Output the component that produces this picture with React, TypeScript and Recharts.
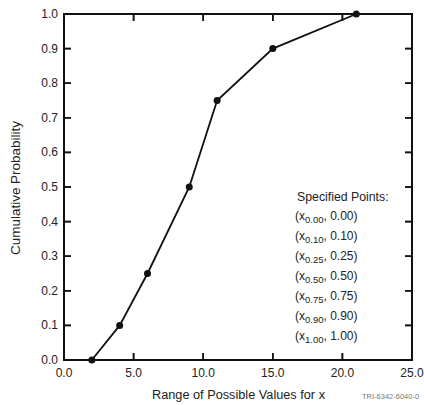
import React from 'react';
import { LineChart, Line, XAxis, YAxis, ReferenceArea, ReferenceDot, ReferenceLine } from 'recharts';

// values
const probabilities = [0, 0.1, 0.25, 0.5, 0.75, 0.9, 1.0];
const xValues = [2, 4, 6, 9, 11, 15, 21];
const xTicks = [0, 5, 10, 15, 20, 25];
const yTicks = [0, 0.1, 0.2, 0.3, 0.4, 0.5, 0.6, 0.7, 0.8, 0.9, 1.0];

const data = xValues.map((x, i) => ({ x, p: probabilities[i] }));

const FONT = '"Liberation Sans", Arial, Helvetica, sans-serif';
const TICK_LEN = 7;
const TICK_DX = 0.5; // about 7px in x units
const TICK_DY = 0.02; // about 7px in y units
const INK = '#111';

const XLabel = (props: any) => {
  const { x, y, payload } = props;
  return (
    <text x={x} y={y + 17} textAnchor="middle" fontSize={12} fontFamily={FONT} fill="#222">
      {Number(payload.value).toFixed(1)}
    </text>
  );
};

const YLabel = (props: any) => {
  const { x, y, payload } = props;
  return (
    <text x={x - 6} y={y + 4} textAnchor="end" fontSize={12} fontFamily={FONT} fill="#222">
      {Number(payload.value).toFixed(1)}
    </text>
  );
};

// inward tick marks, drawn at the scaled tick positions
const tickShape = (side: 'bottom' | 'top' | 'left' | 'right') => (p: any) => {
  const { cx, cy } = p;
  if (side === 'bottom') return <rect x={cx - 0.8} y={cy - TICK_LEN} width={1.6} height={TICK_LEN} fill={INK} />;
  if (side === 'top') return <rect x={cx - 0.8} y={cy} width={1.6} height={TICK_LEN} fill={INK} />;
  if (side === 'left') return <rect x={cx} y={cy - 0.8} width={TICK_LEN} height={1.6} fill={INK} />;
  return <rect x={cx - TICK_LEN} y={cy - 0.8} width={TICK_LEN} height={1.6} fill={INK} />;
};

const Annotations = () => (
  <svg
    width={424}
    height={405}
    style={{ position: 'absolute', left: 0, top: 0, pointerEvents: 'none' }}
  >
    <g fontFamily={FONT} fill="#222">
      <text x={297} y={201} fontSize={12.3}>Specified Points:</text>
      {probabilities.map((p, i) => (
        <text key={i} x={295} y={220 + i * 20} fontSize={12}>
          (x
          <tspan fontSize={9.5} dy={3}>{p.toFixed(2)}</tspan>
          <tspan dy={-3}>, {p.toFixed(2)})</tspan>
        </text>
      ))}
      <text x={152} y={399} fontSize={12} textLength={173} lengthAdjust="spacingAndGlyphs">
        Range of Possible Values for x
      </text>
      <text
        x={0}
        y={0}
        fontSize={12}
        textAnchor="middle"
        transform="translate(20 188) rotate(-90)"
        textLength={134}
        lengthAdjust="spacingAndGlyphs"
      >
        Cumulative Probability
      </text>
      <text x={362} y={399} fontSize={7.5} fill="#777">TRI-6342-6040-0</text>
    </g>
  </svg>
);

const App: React.FC = () => {
  return (
    <div style={{ position: 'absolute', left: 0, top: 0, width: 424, height: 405 }}>
      <LineChart
        width={424}
        height={405}
        data={data}
        margin={{ top: 14, right: 12, bottom: 0, left: 0 }}
      >
        <XAxis
          dataKey="x"
          type="number"
          domain={[0, 25]}
          ticks={xTicks}
          height={45}
          tickSize={0}
          tickMargin={0}
          tickLine={false}
          axisLine={false}
          tick={XLabel}
        />
        <YAxis
          type="number"
          domain={[0, 1]}
          ticks={yTicks}
          width={64}
          tickSize={0}
          tickMargin={0}
          tickLine={false}
          axisLine={false}
          tick={YLabel}
        />
        <ReferenceArea
          x1={0}
          x2={25}
          y1={0}
          y2={1}
          fill="none"
          fillOpacity={0}
          stroke={INK}
          strokeWidth={2}
          strokeOpacity={1}
        />
        {xTicks.map((t) => (
          <ReferenceLine key={`bl${t}`} segment={[{ x: t, y: 0 }, { x: t, y: TICK_DY }]} stroke={INK} strokeWidth={1.6} ifOverflow="visible" />
        ))}
        {xTicks.map((t) => (
          <ReferenceLine key={`tl${t}`} segment={[{ x: t, y: 1 - TICK_DY }, { x: t, y: 1 }]} stroke={INK} strokeWidth={1.6} ifOverflow="visible" />
        ))}
        {yTicks.map((t) => (
          <ReferenceLine key={`ll${t}`} segment={[{ x: 0, y: t }, { x: TICK_DX, y: t }]} stroke={INK} strokeWidth={1.6} ifOverflow="visible" />
        ))}
        {yTicks.map((t) => (
          <ReferenceLine key={`rl${t}`} segment={[{ x: 25 - TICK_DX, y: t }, { x: 25, y: t }]} stroke={INK} strokeWidth={1.6} ifOverflow="visible" />
        ))}
        {xTicks.map((t) => (
          <ReferenceDot key={`b${t}`} x={t} y={0} shape={tickShape('bottom')} ifOverflow="visible" />
        ))}
        {xTicks.map((t) => (
          <ReferenceDot key={`t${t}`} x={t} y={1} shape={tickShape('top')} ifOverflow="visible" />
        ))}
        {yTicks.map((t) => (
          <ReferenceDot key={`l${t}`} x={0} y={t} shape={tickShape('left')} ifOverflow="visible" />
        ))}
        {yTicks.map((t) => (
          <ReferenceDot key={`r${t}`} x={25} y={t} shape={tickShape('right')} ifOverflow="visible" />
        ))}
        <Line
          type="linear"
          dataKey="p"
          stroke={INK}
          strokeWidth={1.8}
          dot={{ r: 3.5, fill: INK, stroke: INK, strokeWidth: 0 }}
          isAnimationActive={false}
        />
      </LineChart>
      <Annotations />
    </div>
  );
};

export default App;
